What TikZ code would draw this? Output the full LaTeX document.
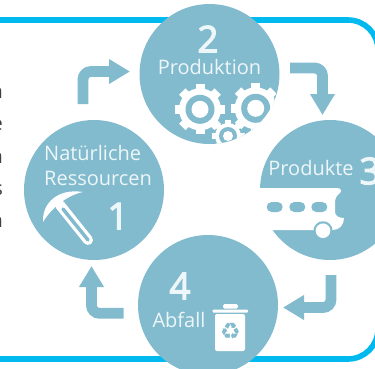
\documentclass[tikz,border=0pt]{standalone}
\usepackage{fontspec}
\usepackage{tikz}
\usetikzlibrary{arrows.meta}
\setmainfont{Open Sans}
\newfontfamily\symbolfont{DejaVu Sans}
\newfontfamily\numberfont[FakeBold=3]{Open Sans}
\definecolor{stageteal}{HTML}{82BBCE}
\definecolor{framecyan}{HTML}{00B9EF}
\definecolor{labelwhite}{HTML}{EDF6F8}
\tikzstyle{stage} = [circle, fill=stageteal, minimum size=140pt, inner sep=0pt, outer sep=0pt]
\tikzstyle{stagetext} = [text=labelwhite, inner sep=0pt, font=\fontsize{20}{25}\selectfont]
\tikzstyle{stagenum} = [text=labelwhite, inner sep=0pt, font=\numberfont\fontsize{37}{37}\selectfont]
\tikzstyle{flow} = [draw=stageteal, line width=10.8pt, rounded corners=8pt,
-{Triangle[width=23.5pt,length=21pt]}]
\newcommand{\gearwheel}[6]{% x, y, tooth tip, body, ring, hole
    \foreach \a in {0,45,...,315}
        \fill[white, shift={(#1,#2)}, rotate=\a] (-#3*0.18,0) rectangle (#3*0.18,#3);
    \fill[white] (#1,#2) circle [radius=#4];
    \fill[stageteal] (#1,#2) circle [radius=#5];
    \fill[white] (#1,#2) circle [radius=#6];
}

\begin{document}
\begin{tikzpicture}[x=1pt, y=-1pt]
        \clip (0,0) rectangle (375,368);
        \draw[framecyan, line width=5.6pt, rounded corners=30pt] (-10,20) -| (378,359) -- (-10,359);
        \foreach \letter/\ypos in {n/98, e/130, n/163, s/195, n/227}
            \node[anchor=base east, inner sep=0pt, text=black!75, font=\fontsize{20}{20}\selectfont] at (3,\ypos) {\letter};

        \node[stage] (resource) at (94,190) {};
        \node[stage] (production) at (209.5,74) {};
        \node[stage] (products) at (330,190) {};
        \node[stage] (waste) at (208,305) {};

        \draw[flow] ([xshift=-11pt,yshift=16pt]resource.north) |- ([xshift=-9.5pt,yshift=2.5pt]production.west);
        \draw[flow] ([xshift=10.5pt,yshift=6pt]production.east) -| ([xshift=-7.5pt,yshift=5pt]products.north);
        \draw[flow] ([xshift=1pt,yshift=-15pt]products.south) |- ([xshift=5pt,yshift=-2.5pt]waste.east);
        \draw[flow] ([xshift=-14.3pt,yshift=-8.3pt]waste.west) -| ([xshift=-2.5pt,yshift=-6pt]resource.south);

        % gears
        \begin{scope}
            \clip (production.center) circle [radius=70];
            \gearwheel{200}{109.3}{25}{21}{14.5}{8.5}
            \gearwheel{255.7}{108.3}{25}{21}{14.5}{8.5}
            \gearwheel{228}{136}{16.5}{13}{9}{5}
        \end{scope}

        % pickaxe
        \fill[white] (43,222) .. controls (42,203) and (58,188) .. (83,192) .. controls (68,195) and (52,207) .. (43,222) -- cycle;
        \draw[white, line width=10pt, line cap=round] (60,205) -- (88,240);
        \draw[stageteal, line width=3.5pt, line cap=round] (63,209) -- (88,240);

        % train
        \fill[white] (255,188) -- (337,188) .. controls (341,188) and (342,191) .. (340,193) .. controls (336,196) and (335,199) .. (335,203) -- (335,212) .. controls (335,216) and (339,218) .. (344,218) .. controls (344,224) and (340,230) .. (333,230) -- (255,230) -- cycle;
        \foreach \xpos in {274.7,297.3,319.3}
            \fill[stageteal, rounded corners=5pt] (\xpos-8,202) rectangle (\xpos+8,212);
        \fill[stageteal] (323,230.7) circle [radius=9.5];
        \fill[white] (323,230.7) circle [radius=7.3];

        % bin
        \fill[white, rounded corners=1.5pt] (223,304) rectangle (238,308.5);
        \fill[white, rounded corners=1pt] (212.5,309.5) rectangle (248,312.5);
        \fill[white, rounded corners=2pt] (215,314) rectangle (245,351);
        \node[inner sep=0pt, text=stageteal, font=\symbolfont\fontsize{23}{23}\selectfont] (recycle) at (230.5,331) {♻};

        \node[stagenum] (numone) at (118,216) {1};
        \node[stagenum] (numtwo) at (208,39) {2};
        \node[stagenum] (numthree) at (370,171) {3};
        \node[stagenum] (numfour) at (180,286) {4};
        \node[stagetext, anchor=base west, align=left] (resourcetext) at (44,185) {Natürliche\\Ressourcen};
        \node[stagetext, anchor=base] (productiontext) at (209.5,74) {Produktion};
        \node[stagetext, anchor=base] (productstext) at (311,175) {Produkte};
        \node[stagetext, anchor=base] (wastetext) at (179,327) {Abfall};
    \end{tikzpicture}
\end{document}
